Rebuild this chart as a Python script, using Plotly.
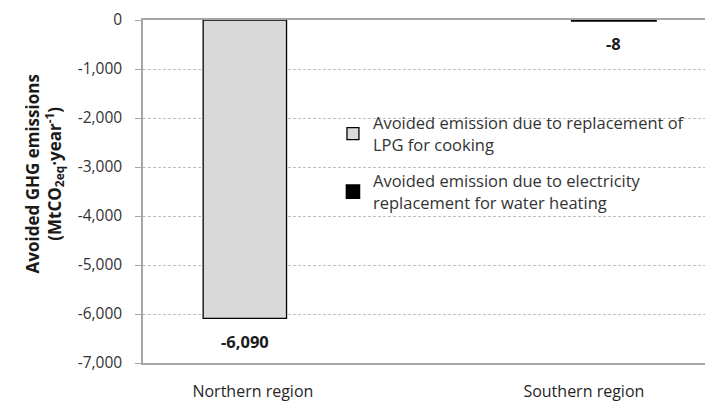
import plotly.graph_objects as go

categories = ["Northern region", "Southern region"]
lpg_values = [-6090, None]
elec_values = [None, -8]
label_values = [-6090, -8]
series_names = [
    "Avoided emission due to replacement of<br>LPG for cooking",
    "Avoided emission due to electricity<br>replacement for water heating",
]
y_ticks = [0, -1000, -2000, -3000, -4000, -5000, -6000, -7000]
y_ticktext = [f"{v:,}" for v in y_ticks]
y_title = "<b>Avoided GHG emissions<br>(MtCO<sub>2eq</sub>·year<sup>-1</sup>)</b>"

FONT = "Open Sans"
AXIS_GRAY = "#a6a6a6"

fig = go.Figure()
fig.add_trace(go.Bar(
    x=categories, y=lpg_values, name=series_names[0], width=0.226,
    legendgroup="a",
    marker=dict(color="#d9d9d9", line=dict(color="black", width=1.3)),
))
fig.add_trace(go.Bar(
    x=categories, y=elec_values, name=series_names[1], width=0.226,
    legendgroup="b",
    marker=dict(color="black", line=dict(color="black", width=2.6)),
))
# invisible trace carrying the category labels axis
fig.add_trace(go.Scatter(
    x=categories, y=[0, 0], xaxis="x2", mode="markers",
    marker=dict(opacity=0), showlegend=False, hoverinfo="skip",
))

for c, v in zip(categories, label_values):
    fig.add_annotation(x=c, y=v, text=f"<b>{v:,}</b>", showarrow=False,
                       yanchor="top", yshift=-10,
                       font=dict(family=FONT, size=16.5, color="#1a1a1a"))

fig.add_annotation(xref="paper", yref="paper", x=-0.176, y=0.55,
                   xanchor="center", yanchor="middle", textangle=-90,
                   text=y_title, showarrow=False,
                   font=dict(family=FONT, size=17, color="#1a1a1a"))

fig.update_layout(
    width=705, height=403,
    margin=dict(l=143, r=0, t=20, b=40, autoexpand=False),
    barmode="relative",
    plot_bgcolor="white", paper_bgcolor="white",
    font=dict(family=FONT, size=15, color="#404040"),
    showlegend=True,
    legend=dict(x=0.338, y=0.75, xanchor="left", yanchor="top",
                bgcolor="rgba(0,0,0,0)",
                font=dict(family=FONT, size=16.5, color="#333333"),
                traceorder="grouped", tracegroupgap=12, itemwidth=30),
    xaxis=dict(range=[-0.276, 1.247], showgrid=False, automargin=False,
               showline=True, mirror=True, linecolor=AXIS_GRAY, linewidth=1.5,
               ticks="", showticklabels=False, zeroline=False),
    xaxis2=dict(type="category", overlaying="x", side="bottom", automargin=False,
                range=[-0.332, 1.366], showgrid=False, showline=False,
                ticks="", zeroline=False, ticklabelstandoff=17,
                tickfont=dict(family=FONT, size=16, color="#262626")),
    yaxis=dict(range=[-7000, 0], tickvals=y_ticks, ticktext=y_ticktext,
               automargin=False,
               showgrid=True, gridcolor="#bfbfbf", griddash="3px,2px", gridwidth=1,
               showline=True, linecolor=AXIS_GRAY, linewidth=1.5,
               ticks="outside", ticklen=6, tickcolor=AXIS_GRAY,
               ticklabelstandoff=10, zeroline=False,
               tickfont=dict(family=FONT, size=15.5, color="#333333")),
)

fig.write_html("out.html", config={"displayModeBar": False},
               post_script="document.body.style.margin='0';")
